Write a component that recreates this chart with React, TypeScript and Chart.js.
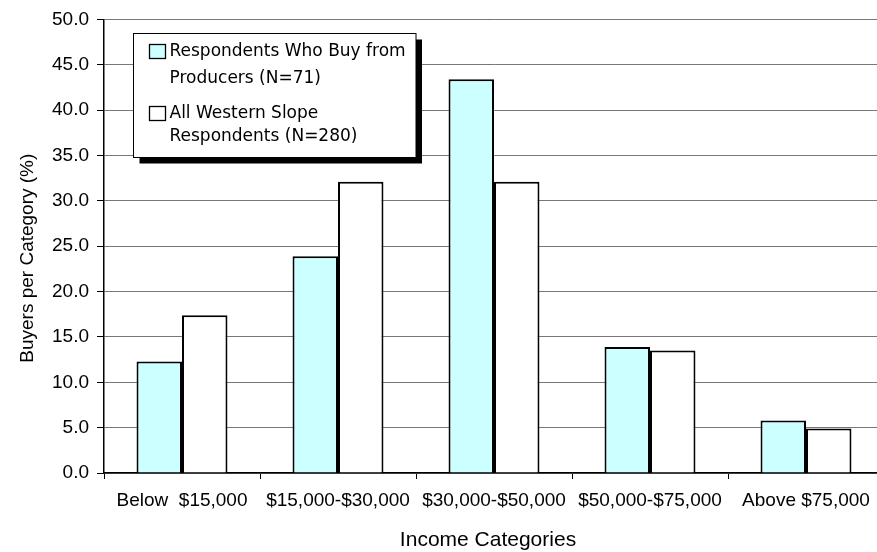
import React, { useEffect, useRef } from 'react';
import { Chart, registerables } from 'chart.js';

Chart.register(...registerables);

const categories = ['Below  $15,000', '$15,000-$30,000', '$30,000-$50,000', '$50,000-$75,000', 'Above $75,000'];
const producerBuyers = [12.3, 23.9, 43.4, 13.9, 5.8];
const allRespondents = [17.4, 32.1, 32.1, 13.5, 4.9];
const producerLegend = ['Respondents Who Buy from', 'Producers (N=71)'];
const allLegend = ['All Western Slope', 'Respondents (N=280)'];
const yTitle = 'Buyers per Category (%)';
const xTitle = 'Income Categories';
const yMin = 0;
const yMax = 50;
const yStep = 5;

const AXIS_FONT = '"Liberation Sans", Arial, sans-serif';
const LEGEND_FONT = '"DejaVu Sans", Verdana, sans-serif';

const overlayPlugin = {
  id: 'overlay',
  afterDraw(chart: any) {
    const ctx = chart.ctx as CanvasRenderingContext2D;
    const area = chart.chartArea;
    ctx.save();
    // axis titles
    ctx.fillStyle = '#000';
    ctx.font = `19px ${AXIS_FONT}`;
    ctx.textAlign = 'center';
    ctx.textBaseline = 'alphabetic';
    ctx.save();
    ctx.translate(33, (area.top + area.bottom) / 2 + 12);
    ctx.rotate(-Math.PI / 2);
    ctx.fillText(yTitle, 0, 0);
    ctx.restore();
    ctx.font = `21px ${AXIS_FONT}`;
    ctx.fillText(xTitle, 488, 545.5);

    // legend box
    const bx = 133.5, by = 33.5, bw = 282.5, bh = 124;
    ctx.fillStyle = '#000';
    ctx.fillRect(bx + 6, by + 6, bw, bh);
    ctx.fillStyle = '#fff';
    ctx.fillRect(bx, by, bw, bh);
    ctx.strokeStyle = '#000';
    ctx.lineWidth = 1;
    ctx.strokeRect(bx, by, bw, bh);

    const ds = chart.data.datasets;
    const items = [
      { lines: producerLegend, color: ds[0].backgroundColor, swatchY: 44.5, baselines: [56, 83] },
      { lines: allLegend, color: ds[1].backgroundColor, swatchY: 106.5, baselines: [117.5, 140.5] },
    ];
    ctx.font = `17px ${LEGEND_FONT}`;
    ctx.textAlign = 'left';
    items.forEach((it) => {
      ctx.fillStyle = it.color;
      ctx.fillRect(149.5, it.swatchY, 16, 14);
      ctx.strokeStyle = '#000';
      ctx.lineWidth = 1.3;
      ctx.strokeRect(149.5, it.swatchY, 16, 14);
      ctx.fillStyle = '#000';
      it.lines.forEach((t, i) => ctx.fillText(t, 169.5, it.baselines[i]));
    });
    ctx.restore();
  },
};

export default function App() {
  const ref = useRef<HTMLCanvasElement | null>(null);

  useEffect(() => {
    if (!ref.current) return;
    const chart = new Chart(ref.current, {
      type: 'bar',
      data: {
        labels: categories,
        datasets: [
          {
            label: producerLegend.join(' '),
            data: producerBuyers,
            backgroundColor: '#ccffff',
            borderColor: '#000',
            borderWidth: 2,
            categoryPercentage: 0.583,
            barPercentage: 1,
          },
          {
            label: allLegend.join(' '),
            data: allRespondents,
            backgroundColor: '#ffffff',
            borderColor: '#000',
            borderWidth: 2,
            categoryPercentage: 0.583,
            barPercentage: 1,
          },
        ],
      },
      options: {
        animation: false,
        responsive: true,
        maintainAspectRatio: false,
        layout: { padding: { left: 0, top: 16.5, right: 16, bottom: 0 } },
        plugins: { legend: { display: false }, tooltip: { enabled: false } },
        scales: {
          x: {
            afterFit: (s: any) => { s.height = 79; },
            grid: { display: true, drawOnChartArea: false, drawTicks: true, tickLength: 6, color: '#000', offset: true },
            border: { display: true, color: '#000', width: 1.5 },
            ticks: { color: '#000', font: { family: AXIS_FONT, size: 19 }, maxRotation: 0, autoSkip: false, padding: 10 },
          },
          y: {
            min: yMin,
            max: yMax,
            afterFit: (s: any) => { s.width = 104; },
            grid: { color: '#777777', lineWidth: 1, tickColor: '#000', tickLength: 7, drawTicks: true },
            border: { display: true, color: '#000', width: 1.5 },
            ticks: {
              stepSize: yStep,
              color: '#000',
              padding: 8,
              font: { family: AXIS_FONT, size: 19 },
              callback: (v: any) => Number(v).toFixed(1),
            },
          },
        },
      },
      plugins: [overlayPlugin],
    });
    return () => chart.destroy();
  }, []);

  return (
    <div style={{ position: 'fixed', left: 0, top: 0, width: 877, height: 552, overflow: 'hidden', background: '#fff' }}>
      <div style={{ position: 'relative', width: 900, height: 552 }}>
        <canvas ref={ref} />
      </div>
    </div>
  );
}
